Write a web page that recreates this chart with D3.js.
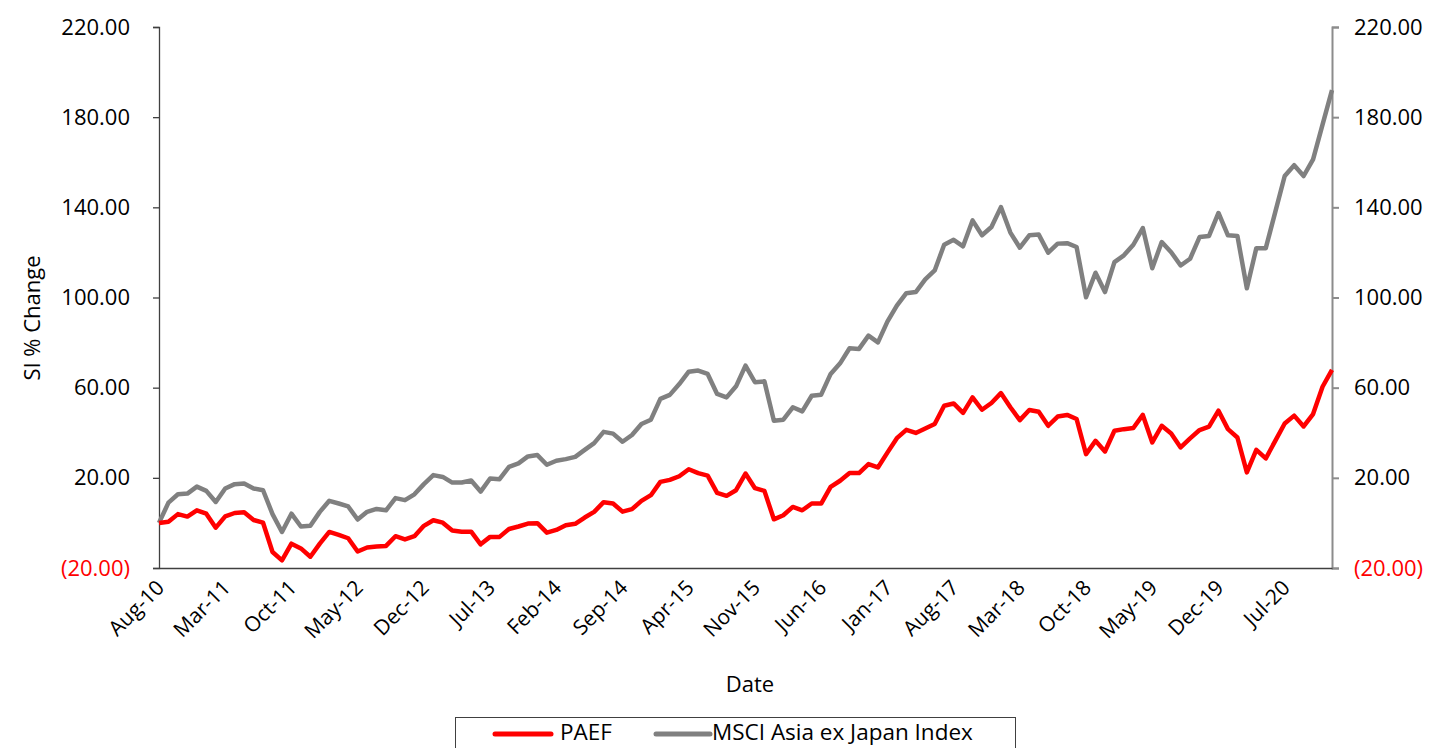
<!DOCTYPE html>
<html>
<head>
<meta charset="utf-8">
<script src="https://cdn.jsdelivr.net/npm/d3@7"></script>
<style>
  body { margin: 0; background: #fff; }
  svg { display: block; }
  text { font-family: "Open Sans", "Noto Sans", sans-serif; }
</style>
</head>
<body>
<div id="chart"></div>
<script>
// monthly points, Aug-10 .. Dec-20
const months = d3.timeMonth.range(new Date(2010, 7, 1), new Date(2021, 0, 1));
const fmt = d3.timeFormat('%b-%y');
const categories = months.map(fmt);

const tickLabels = ['Aug-10', 'Mar-11', 'Oct-11', 'May-12', 'Dec-12', 'Jul-13', 'Feb-14', 'Sep-14',
  'Apr-15', 'Nov-15', 'Jun-16', 'Jan-17', 'Aug-17', 'Mar-18', 'Oct-18', 'May-19', 'Dec-19', 'Jul-20'];

const yTicks = [-20, 20, 60, 100, 140, 180, 220];

const paef = [
  0, 0.5, 3.9, 2.8, 5.6, 4.1, -2.1, 2.9, 4.4, 4.7, 1.3, 0.1,
  -12.9, -16.6, -9.2, -11.3, -15.0, -9.2, -4.0, -5.3, -6.8, -12.7, -10.9, -10.5,
  -10.2, -5.9, -7.3, -5.9, -1.3, 1.2, 0.1, -3.4, -3.9, -3.9, -9.5, -6.2,
  -6.2, -2.7, -1.6, -0.3, -0.1, -4.3, -3.1, -1.0, -0.4, 2.4, 4.9, 9.2,
  8.6, 5.0, 6.1, 9.8, 12.3, 18.2, 19.1, 20.7, 23.8, 22.1, 21.0, 13.3,
  12.0, 14.5, 21.9, 15.4, 14.2, 1.6, 3.4, 7.1, 5.6, 8.6, 8.6, 16.0,
  18.7, 22.1, 22.1, 26.1, 24.6, 31.2, 37.6, 41.3, 39.9, 41.9, 43.9, 52.0,
  53.0, 48.8, 55.7, 50.2, 53.2, 57.6, 51.3, 45.6, 50.1, 49.3, 43.1, 47.2,
  47.9, 46.1, 30.5, 36.4, 31.7, 40.9, 41.6, 42.1, 47.9, 35.7, 43.1, 39.7,
  33.5, 37.5, 41.2, 42.7, 49.8, 41.6, 37.9, 22.4, 32.4, 28.6, 36.4, 44.1,
  47.6, 42.8, 48.3, 60.4, 67.9
];

const msci = [
  0, 9.0, 12.7, 13.0, 16.1, 14.2, 9.3, 15.3, 17.2, 17.5, 15.3, 14.5,
  3.9, -4.0, 4.1, -1.6, -1.3, 4.9, 9.8, 8.6, 7.3, 1.5, 4.9, 6.2,
  5.6, 11.0, 10.1, 12.7, 17.2, 21.2, 20.4, 17.9, 17.9, 18.8, 13.9, 19.7,
  19.4, 24.9, 26.4, 29.5, 30.1, 25.8, 27.6, 28.3, 29.3, 32.4, 35.4, 40.4,
  39.6, 36.0, 39.0, 43.9, 45.8, 55.0, 56.8, 61.6, 67.1, 67.6, 66.1, 57.2,
  55.7, 60.6, 69.8, 62.4, 62.8, 45.3, 45.8, 51.3, 49.5, 56.4, 56.9, 66.1,
  70.8, 77.5, 77.2, 83.1, 80.1, 89.3, 96.4, 101.9, 102.4, 108.0, 112.0, 123.4,
  125.6, 122.7, 134.2, 127.6, 131.3, 140.1, 128.8, 122.1, 127.6, 127.9, 119.9, 123.9,
  124.1, 122.4, 100.1, 111.0, 102.4, 115.7, 118.7, 123.4, 130.8, 113.0, 124.6, 120.1,
  114.2, 117.2, 126.8, 127.3, 137.5, 127.6, 127.3, 104.1, 121.9, 121.9, 137.9, 153.9,
  158.7, 153.9, 161.3, 176.7, 192.0
];

const seriesNames = ['PAEF', 'MSCI Asia ex Japan Index'];
const seriesColors = ['#ff0000', '#808080'];

const width = 1429;
const height = 748;
const margin = { top: 27, right: 97, bottom: 180, left: 159 };

const svg = d3.select('#chart')
  .append('svg')
  .attr('width', width)
  .attr('height', height);

const x = d3.scalePoint()
  .domain(categories)
  .range([margin.left, width - margin.right]);

const y = d3.scaleLinear()
  .domain([-20, 220])
  .range([height - margin.bottom, margin.top]);

const fmtTick = v => v < 0 ? `(${Math.abs(v).toFixed(2)})` : v.toFixed(2);

// left axis
const leftAxis = svg.append('g')
  .attr('transform', `translate(${margin.left},0)`)
  .call(d3.axisLeft(y).tickValues(yTicks).tickSize(6).tickPadding(23).tickFormat(fmtTick));
leftAxis.select('.domain').attr('stroke', '#404040').attr('stroke-width', 1.3);
leftAxis.selectAll('.tick line').attr('stroke', '#404040').attr('stroke-width', 1.3);
leftAxis.selectAll('.tick text')
  .style('font-size', '22px')
  .attr('fill', d => d < 0 ? '#ff0000' : '#000');

// right axis
const rightAxis = svg.append('g')
  .attr('transform', `translate(${width - margin.right},0)`)
  .call(d3.axisRight(y).tickValues(yTicks).tickSize(7).tickPadding(15).tickFormat(fmtTick));
rightAxis.select('.domain').attr('stroke', '#8c8c8c').attr('stroke-width', 2);
rightAxis.selectAll('.tick line').attr('stroke', '#8c8c8c').attr('stroke-width', 2);
rightAxis.selectAll('.tick text')
  .style('font-size', '22px')
  .attr('fill', d => d < 0 ? '#ff0000' : '#000');

// bottom axis
const bottomAxis = svg.append('g')
  .attr('transform', `translate(0,${height - margin.bottom})`)
  .call(d3.axisBottom(x).tickValues(tickLabels).tickSize(0).tickPadding(0));
bottomAxis.select('.domain').attr('stroke', '#404040').attr('stroke-width', 1.3);
bottomAxis.selectAll('.tick text')
  .style('font-size', '21px')
  .attr('fill', '#000')
  .attr('text-anchor', 'end')
  .attr('transform', 'translate(6,21) rotate(-45)')
  .attr('dy', '0');

// lines
const line = d3.line()
  .x((d, i) => x(categories[i]))
  .y(d => y(d));

[msci, paef].forEach((values, k) => {
  svg.append('path')
    .datum(values)
    .attr('fill', 'none')
    .attr('stroke', k === 0 ? seriesColors[1] : seriesColors[0])
    .attr('stroke-width', 4.5)
    .attr('stroke-linejoin', 'round')
    .attr('d', line);
});

// axis titles
svg.append('text')
  .attr('text-anchor', 'middle')
  .attr('transform', `translate(40,318) rotate(-90)`)
  .text('SI % Change')
  .style('font-size', '22px')
  .style('fill', 'black');

svg.append('text')
  .attr('text-anchor', 'middle')
  .attr('x', 750)
  .attr('y', 692)
  .text('Date')
  .style('font-size', '22px')
  .style('fill', 'black');

// legend
const legend = svg.append('g');
legend.append('rect')
  .attr('x', 455.5)
  .attr('y', 717.5)
  .attr('width', 560)
  .attr('height', 40)
  .attr('fill', 'none')
  .attr('stroke', '#404040')
  .attr('stroke-width', 1);

const legendItems = [
  { x1: 495, x2: 551, tx: 560 },
  { x1: 656, x2: 710, tx: 712 }
];
legendItems.forEach((it, i) => {
  legend.append('line')
    .attr('x1', it.x1).attr('x2', it.x2)
    .attr('y1', 734).attr('y2', 734)
    .attr('stroke', seriesColors[i])
    .attr('stroke-width', 5)
    .attr('stroke-linecap', 'round');
  legend.append('text')
    .attr('x', it.tx)
    .attr('y', 740)
    .text(seriesNames[i])
    .style('font-size', '22.5px')
    .style('fill', 'black');
});
</script>
</body>
</html>
